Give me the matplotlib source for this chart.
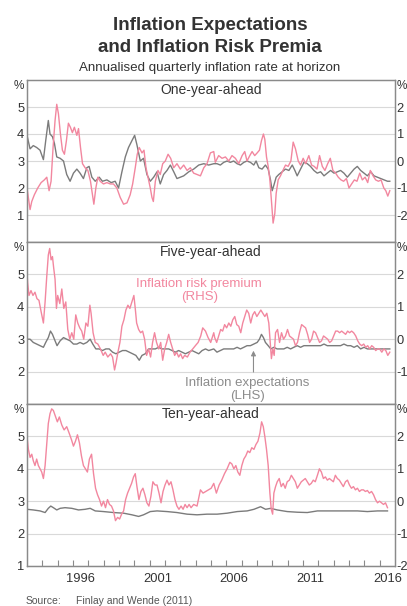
import matplotlib.pyplot as plt

plt.rcParams['font.family'] = ['Liberation Sans', 'DejaVu Sans']
plt.rcParams['axes.unicode_minus'] = False

# ---- One-year-ahead ----
one_exp_years = [
    1993.00, 1993.20, 1993.41, 1993.63, 1993.85, 1994.07, 1994.22, 1994.39, 1994.50, 1994.66,
    1994.79, 1994.94, 1995.16, 1995.38, 1995.59, 1995.81, 1996.03, 1996.25, 1996.46, 1996.68,
    1996.90, 1997.05, 1997.23, 1997.45, 1997.71, 1997.92, 1998.21, 1998.49, 1998.75, 1998.97,
    1999.19, 1999.41, 1999.62, 1999.84, 2000.02, 2000.17, 2000.39, 2000.60, 2000.82, 2001.04,
    2001.26, 2001.48, 2001.69, 2001.91, 2002.13, 2002.35, 2002.57, 2002.78, 2003.00, 2003.22,
    2003.55, 2003.87, 2004.20, 2004.53, 2004.85, 2005.18,
    2005.39, 2005.61, 2005.83, 2006.05, 2006.26, 2006.48, 2006.70, 2006.92, 2007.14, 2007.35,
    2007.57, 2007.79, 2007.94, 2008.12, 2008.33, 2008.55, 2008.73, 2008.88, 2008.99, 2009.10,
    2009.25, 2009.42, 2009.64, 2009.86, 2010.08, 2010.30, 2010.47, 2010.62, 2010.84, 2011.06,
    2011.28, 2011.49, 2011.71, 2011.93, 2012.15, 2012.37, 2012.58, 2012.80, 2013.02, 2013.24,
    2013.45, 2013.67, 2013.89, 2014.11, 2014.33, 2014.54, 2014.76, 2014.98, 2015.20, 2015.42,
    2015.63, 2015.85, 2016.07, 2016.29, 2016.51, 2016.66]
one_exp = [
    3.95, 3.45, 3.57, 3.5, 3.4, 3.05, 3.75, 4.5, 4.0, 3.9,
    3.65, 3.15, 3.1, 3.0, 2.5, 2.25, 2.55, 2.7, 2.55, 2.35,
    2.75, 2.8, 2.4, 2.25, 2.4, 2.25, 2.3, 2.2, 2.25, 2.0,
    2.6, 3.15, 3.5, 3.75, 3.95, 3.6, 3.0, 3.1, 2.5, 2.25,
    2.4, 2.6, 2.15, 2.5, 2.65, 2.85, 2.6, 2.35, 2.4, 2.45,
    2.6, 2.7, 2.85, 2.9, 2.85, 2.9,
    2.9, 2.85, 2.95, 3.0, 2.95, 3.0, 2.9, 2.85, 2.95, 3.0,
    2.95, 2.85, 3.0, 2.75, 2.7, 2.85, 2.7, 2.3, 1.9, 2.1,
    2.4, 2.5, 2.6, 2.7, 2.65, 2.85, 2.65, 2.45, 2.7, 2.95,
    2.9, 2.8, 2.65, 2.55, 2.6, 2.45, 2.55, 2.65, 2.55, 2.6,
    2.65, 2.55, 2.4, 2.55, 2.7, 2.8, 2.65, 2.55, 2.45, 2.6,
    2.45, 2.4, 2.35, 2.3, 2.25, 2.25]

one_irp_years = [
    1993.00, 1993.09, 1993.20, 1993.31, 1993.48, 1993.70, 1993.92, 1994.13, 1994.29, 1994.44,
    1994.57, 1994.70, 1994.83, 1994.94, 1995.05, 1995.18, 1995.31, 1995.44, 1995.57, 1995.70,
    1995.83, 1995.96, 1996.09, 1996.25, 1996.36, 1996.49, 1996.62, 1996.79, 1996.97, 1997.14,
    1997.27, 1997.36, 1997.49, 1997.62, 1997.77, 1997.99, 1998.21, 1998.43, 1998.64, 1998.86,
    1999.08, 1999.30, 1999.52, 1999.73, 1999.89, 2000.06, 2000.19, 2000.32, 2000.50, 2000.63,
    2000.76, 2000.89, 2001.04, 2001.15, 2001.24, 2001.37, 2001.54, 2001.69, 2001.85, 2002.02,
    2002.20, 2002.37, 2002.57, 2002.78, 2003.00, 2003.22, 2003.44, 2003.65, 2003.87, 2004.09,
    2004.31, 2004.53, 2004.74, 2004.96, 2005.18,
    2005.28, 2005.50, 2005.72, 2005.94, 2006.16, 2006.37, 2006.59, 2006.81, 2007.03, 2007.20,
    2007.35, 2007.53, 2007.68, 2007.85, 2008.01, 2008.16, 2008.29, 2008.42, 2008.51, 2008.62,
    2008.73, 2008.84, 2008.94, 2009.05, 2009.16, 2009.25, 2009.38, 2009.53, 2009.69, 2009.86,
    2010.03, 2010.21, 2010.36, 2010.51, 2010.69, 2010.84, 2011.01, 2011.17, 2011.38, 2011.56,
    2011.73, 2011.91, 2012.08, 2012.26, 2012.43, 2012.61, 2012.78, 2012.95, 2013.13, 2013.30,
    2013.48, 2013.65, 2013.83, 2014.00, 2014.17, 2014.35, 2014.52, 2014.70, 2014.87, 2015.05,
    2015.22, 2015.39, 2015.57, 2015.74, 2015.92, 2016.09, 2016.27, 2016.40, 2016.53, 2016.66]
one_irp = [
    -1.0, -1.35, -1.8, -1.5, -1.25, -1.0, -0.8, -0.7, -0.6, -1.1,
    -0.75, 0.5, 1.5, 2.1, 1.75, 1.0, 0.4, 0.25, 0.75, 1.4,
    1.25, 1.05, 1.25, 0.95, 1.2, 0.5, -0.1, -0.25, -0.35, -0.75,
    -1.25, -1.6, -1.0, -0.6, -0.75, -0.85, -0.8, -0.85, -0.85, -1.0,
    -1.35, -1.6, -1.55, -1.25, -0.85, -0.25, 0.25, 0.5, 0.3, 0.4,
    -0.25, -0.6, -1.0, -1.35, -1.5, -0.75, -0.35, -0.5, -0.1, 0.0,
    0.25, 0.1, -0.25, -0.1, -0.3, -0.15, -0.35, -0.25, -0.45, -0.5,
    -0.55, -0.25, -0.1, 0.3, 0.35,
    -0.05, 0.2, 0.1, 0.15, 0.0, 0.2, 0.1, -0.1, 0.2, 0.35,
    0.0, 0.2, 0.35, 0.2, 0.3, 0.4, 0.75, 1.0, 0.8, 0.15,
    -0.2, -0.7, -1.45, -2.3, -1.95, -1.2, -0.7, -0.55, -0.35, -0.15,
    -0.2, 0.0, 0.7, 0.45, 0.0, -0.15, 0.1, -0.1, 0.2, -0.15,
    -0.2, -0.3, 0.2, -0.2, -0.35, -0.1, 0.1, -0.35, -0.45, -0.6,
    -0.7, -0.75, -0.65, -1.0, -0.85, -0.7, -0.75, -0.45, -0.7, -0.6,
    -0.8, -0.35, -0.55, -0.7, -0.75, -0.7, -1.0, -1.1, -1.3, -1.1]

# ---- Five-year-ahead ----
five_exp_years = [
    1993.00, 1993.20, 1993.41, 1993.63, 1993.85, 1994.07, 1994.22, 1994.39, 1994.53, 1994.66,
    1994.83, 1994.96, 1995.16, 1995.38, 1995.59, 1995.81, 1996.03, 1996.25, 1996.46, 1996.68,
    1996.90, 1997.12, 1997.29, 1997.49, 1997.71, 1997.92, 1998.14, 1998.36, 1998.58, 1998.80,
    1999.01, 1999.23, 1999.45, 1999.67, 1999.89, 2000.10, 2000.32, 2000.50, 2000.71, 2000.93,
    2001.15, 2001.37, 2001.59, 2001.80, 2002.02, 2002.24, 2002.46, 2002.67, 2002.89, 2003.11,
    2003.33, 2003.55, 2003.76, 2003.98, 2004.20, 2004.42, 2004.64, 2004.85, 2005.18,
    2005.39, 2005.61, 2005.83, 2006.05, 2006.26, 2006.48, 2006.70, 2006.92, 2007.14, 2007.35,
    2007.57, 2007.79, 2008.01, 2008.16, 2008.29, 2008.42, 2008.55, 2008.73, 2008.90, 2009.10,
    2009.31, 2009.53, 2009.75, 2009.97, 2010.19, 2010.40, 2010.62, 2010.84, 2011.06, 2011.28,
    2011.49, 2011.71, 2011.93, 2012.15, 2012.37, 2012.58, 2012.80, 2013.02, 2013.24, 2013.45,
    2013.67, 2013.89, 2014.11, 2014.33, 2014.54, 2014.76, 2014.98, 2015.20, 2015.42, 2015.63,
    2015.85, 2016.07, 2016.29, 2016.51, 2016.66]
five_exp = [
    3.0, 3.0, 2.9, 2.85, 2.8, 2.75, 2.9, 3.05, 3.25, 3.15,
    2.95, 2.8, 2.95, 3.05, 3.0, 2.95, 2.85, 2.85, 2.9, 2.85,
    2.9, 3.0, 2.85, 2.7, 2.7, 2.65, 2.7, 2.7, 2.6, 2.55,
    2.6, 2.65, 2.65, 2.6, 2.55, 2.5, 2.35, 2.5, 2.55, 2.7,
    2.7, 2.7, 2.75, 2.7, 2.7, 2.7, 2.65, 2.6, 2.65, 2.6,
    2.55, 2.6, 2.65, 2.6, 2.55, 2.65, 2.7, 2.65, 2.7,
    2.6, 2.65, 2.7, 2.7, 2.7, 2.7, 2.75, 2.7, 2.75, 2.8,
    2.8, 2.85, 2.9, 3.0, 3.15, 3.05, 2.9, 2.8, 2.7, 2.75,
    2.7, 2.7, 2.7, 2.75, 2.7, 2.75, 2.8, 2.75, 2.8, 2.8,
    2.8, 2.8, 2.8, 2.8, 2.85, 2.8, 2.8, 2.8, 2.8, 2.8,
    2.85, 2.8, 2.8, 2.75, 2.8, 2.7, 2.75, 2.7, 2.7, 2.7,
    2.7, 2.7, 2.7, 2.7, 2.7]

five_irp_years = [
    1993.00, 1993.04, 1993.13, 1993.26, 1993.39, 1993.52, 1993.65, 1993.78, 1993.92, 1994.07,
    1994.18, 1994.29, 1994.39, 1994.48, 1994.57, 1994.66, 1994.74, 1994.83, 1994.92, 1995.00,
    1995.14, 1995.27, 1995.40, 1995.53, 1995.66, 1995.79, 1995.92, 1996.05, 1996.18, 1996.31,
    1996.44, 1996.57, 1996.70, 1996.84, 1996.97, 1997.10, 1997.18, 1997.31, 1997.45, 1997.62,
    1997.79, 1997.97, 1998.10, 1998.27, 1998.45, 1998.58, 1998.71, 1998.80, 1998.93, 1999.06,
    1999.19, 1999.32, 1999.45, 1999.58, 1999.71, 1999.84, 1999.97, 2000.06, 2000.15, 2000.28,
    2000.41, 2000.54, 2000.67, 2000.80, 2000.93, 2001.06, 2001.19, 2001.32, 2001.45, 2001.59,
    2001.72, 2001.85, 2001.98, 2002.11, 2002.24, 2002.37, 2002.50, 2002.63, 2002.76, 2002.89,
    2003.02, 2003.15, 2003.28, 2003.46, 2003.63, 2003.81, 2003.98, 2004.16, 2004.33, 2004.46,
    2004.64, 2004.81, 2004.98, 2005.18,
    2005.24, 2005.37, 2005.50, 2005.63, 2005.76, 2005.89, 2006.02, 2006.16, 2006.29, 2006.42,
    2006.55, 2006.68, 2006.81, 2006.94, 2007.07, 2007.20, 2007.33, 2007.46, 2007.59, 2007.72,
    2007.85, 2007.99, 2008.12, 2008.25, 2008.38, 2008.51, 2008.64, 2008.77, 2008.86, 2008.94,
    2009.03, 2009.12, 2009.21, 2009.34, 2009.47, 2009.60, 2009.73, 2009.86, 2009.99, 2010.12,
    2010.25, 2010.38, 2010.51, 2010.64, 2010.77, 2010.91, 2011.04, 2011.17, 2011.30, 2011.43,
    2011.56, 2011.69, 2011.82, 2011.95, 2012.08, 2012.21, 2012.34, 2012.47, 2012.61, 2012.74,
    2012.87, 2013.00, 2013.13, 2013.26, 2013.39, 2013.52, 2013.65, 2013.78, 2013.91, 2014.04,
    2014.17, 2014.30, 2014.44, 2014.57, 2014.70, 2014.83, 2014.96, 2015.09, 2015.22, 2015.35,
    2015.48, 2015.61, 2015.74, 2015.87, 2016.00, 2016.14, 2016.27, 2016.40, 2016.53, 2016.66]
five_irp = [
    2.07, 1.75, 1.35, 1.5, 1.35, 1.45, 1.25, 1.2, 0.85, 0.5,
    1.15, 1.95, 2.6, 2.8, 2.45, 2.55, 2.2, 1.85, 0.95, 1.35,
    1.1, 1.55, 0.95, 1.15, 0.3, 0.0, 0.2, 0.0, 0.75, 0.5,
    0.35, 0.25, 0.0, 0.5, 0.4, 1.05, 0.8, 0.2, -0.1, -0.15,
    -0.3, -0.5, -0.4, -0.55, -0.45, -0.55, -0.95, -0.75, -0.4, -0.1,
    0.4, 0.6, 0.9, 1.05, 0.95, 1.15, 1.35, 0.95, 0.5, 0.3,
    0.2, 0.25, 0.0, -0.5, -0.3, -0.55, -0.1, 0.2, -0.1, -0.3,
    -0.1, -0.65, -0.3, -0.1, 0.15, -0.1, -0.3, -0.5, -0.4, -0.55,
    -0.45, -0.6, -0.5, -0.55, -0.4, -0.3, -0.2, -0.1, 0.1, 0.35,
    0.25, 0.05, -0.1, 0.2,
    0.05, -0.1, 0.1, 0.3, 0.25, 0.45, 0.35, 0.5, 0.4, 0.6,
    0.7, 0.45, 0.4, 0.2, 0.5, 0.7, 0.9, 0.8, 0.5, 0.75,
    0.85, 0.7, 0.8, 0.9, 0.8, 0.7, 0.8, 0.5, -0.1, -0.6,
    -0.3, -0.5, 0.2, 0.3, -0.1, 0.2, 0.0, 0.1, 0.3, 0.1,
    0.05, 0.0, -0.2, -0.1, 0.2, 0.45, 0.4, 0.35, 0.15, -0.1,
    0.0, 0.25, 0.2, 0.05, -0.1, -0.05, 0.1, 0.05, 0.0, -0.1,
    -0.05, 0.1, 0.25, 0.25, 0.2, 0.25, 0.2, 0.15, 0.25, 0.2,
    0.25, 0.2, 0.1, -0.05, -0.15, -0.2, -0.15, -0.25, -0.2, -0.3,
    -0.2, -0.25, -0.35, -0.3, -0.3, -0.4, -0.3, -0.35, -0.5, -0.4]

# ---- Ten-year-ahead ----
ten_exp_years = [
    1993.00, 1993.41, 1993.85, 1994.18, 1994.39, 1994.55, 1994.72, 1994.94, 1995.16, 1995.48,
    1995.92, 1996.36, 1996.79, 1997.12, 1997.45, 1997.99, 1998.64, 1999.30, 1999.84, 2000.28,
    2000.60, 2001.04, 2001.48, 2002.13, 2002.78, 2003.44, 2004.09, 2004.74, 2005.40, 2006.05,
    2006.71, 2007.36, 2007.80, 2008.23, 2008.56, 2008.89, 2009.32, 2009.97, 2010.63, 2011.28,
    2011.94, 2012.59, 2013.24, 2013.90, 2014.55, 2015.20, 2015.86, 2016.51]
ten_exp = [
    2.75, 2.73, 2.7, 2.65, 2.78, 2.85, 2.8, 2.73, 2.78, 2.8,
    2.78, 2.73, 2.75, 2.78, 2.7, 2.68, 2.65, 2.63, 2.58, 2.53,
    2.58, 2.68, 2.7, 2.68, 2.65, 2.6, 2.58, 2.6, 2.6, 2.63,
    2.68, 2.7, 2.75, 2.83, 2.75, 2.78, 2.73, 2.68, 2.66, 2.65,
    2.7, 2.7, 2.7, 2.7, 2.7, 2.68, 2.7, 2.7]

ten_irp_years = [
    1993.00, 1993.09, 1993.20, 1993.31, 1993.41, 1993.52, 1993.63, 1993.74, 1993.85, 1993.96,
    1994.07, 1994.18, 1994.29, 1994.39, 1994.50, 1994.61, 1994.72, 1994.83, 1994.98, 1995.11,
    1995.27, 1995.42, 1995.59, 1995.75, 1995.90, 1996.03, 1996.16, 1996.29, 1996.42, 1996.55,
    1996.68, 1996.81, 1996.94, 1997.07, 1997.21, 1997.34, 1997.47, 1997.60, 1997.73, 1997.86,
    1997.99, 1998.12, 1998.25, 1998.38, 1998.51, 1998.64, 1998.77, 1998.91, 1999.04, 1999.17,
    1999.30, 1999.43, 1999.56, 1999.69, 1999.82, 1999.95, 2000.06, 2000.17, 2000.30, 2000.43,
    2000.56, 2000.69, 2000.82, 2000.95, 2001.08, 2001.21, 2001.35, 2001.48, 2001.61, 2001.74,
    2001.87, 2002.00, 2002.13, 2002.26, 2002.39, 2002.52, 2002.65, 2002.78, 2002.91, 2003.05,
    2003.18, 2003.31, 2003.44, 2003.57, 2003.70, 2003.87, 2004.09, 2004.31, 2004.48, 2004.66,
    2004.83, 2005.01, 2005.18, 2005.35, 2005.53, 2005.70, 2005.88, 2006.05, 2006.23, 2006.36,
    2006.49, 2006.62, 2006.75, 2006.88, 2007.01, 2007.14, 2007.27, 2007.40, 2007.53, 2007.66,
    2007.80, 2007.93, 2008.06, 2008.19, 2008.30, 2008.41, 2008.51, 2008.62, 2008.73, 2008.84,
    2008.93, 2009.02, 2009.10, 2009.21, 2009.32, 2009.45, 2009.58, 2009.71, 2009.84, 2009.97,
    2010.11, 2010.24, 2010.37, 2010.50, 2010.63, 2010.76, 2010.89, 2011.02, 2011.15, 2011.28,
    2011.41, 2011.54, 2011.67, 2011.80, 2011.94, 2012.07, 2012.20, 2012.33, 2012.46, 2012.59,
    2012.72, 2012.85, 2012.98, 2013.11, 2013.24, 2013.37, 2013.50, 2013.63, 2013.77, 2013.90,
    2014.03, 2014.16, 2014.29, 2014.42, 2014.55, 2014.68, 2014.81, 2014.94, 2015.07, 2015.20,
    2015.33, 2015.47, 2015.60, 2015.73, 2015.86, 2015.99, 2016.12, 2016.25, 2016.38, 2016.51]
ten_irp = [
    2.0, 1.6, 1.35, 1.45, 1.25, 1.1, 1.3, 1.1, 1.0, 0.9,
    0.7, 1.1, 1.8, 2.4, 2.7, 2.85, 2.8, 2.65, 2.45, 2.6,
    2.35, 2.2, 2.3, 2.1, 1.9, 1.7, 1.85, 2.05, 1.8, 1.4,
    1.1, 1.0, 0.9, 1.3, 1.45, 0.85, 0.4, 0.2, 0.05, -0.15,
    0.0, -0.2, 0.05, -0.1, -0.15, -0.3, -0.6, -0.5, -0.55, -0.4,
    -0.3, 0.05, 0.25, 0.4, 0.55, 0.75, 0.85, 0.45, 0.05, 0.3,
    0.4, 0.2, -0.05, -0.15, 0.15, 0.6, 0.5, 0.5, 0.25, -0.05,
    0.3, 0.5, 0.65, 0.5, 0.6, 0.35, 0.05, -0.15, -0.25, -0.15,
    -0.25, -0.1, -0.2, -0.1, -0.2, -0.1, -0.15, 0.35, 0.25, 0.3,
    0.35, 0.4, 0.55, 0.25, 0.5, 0.65, 0.85, 1.0, 1.2, 1.15,
    1.0, 1.1, 0.9, 0.8, 1.1, 1.3, 1.4, 1.55, 1.5, 1.65,
    1.6, 1.75, 1.85, 2.1, 2.45, 2.3, 2.0, 1.6, 1.1, 0.25,
    -0.25, -0.4, 0.25, 0.45, 0.6, 0.7, 0.45, 0.55, 0.4, 0.6,
    0.65, 0.8, 0.7, 0.6, 0.4, 0.5, 0.6, 0.65, 0.7, 0.6,
    0.5, 0.55, 0.65, 0.6, 0.8, 1.0, 0.9, 0.7, 0.75, 0.65,
    0.7, 0.65, 0.6, 0.8, 0.7, 0.65, 0.55, 0.45, 0.6, 0.65,
    0.5, 0.4, 0.45, 0.35, 0.4, 0.3, 0.35, 0.35, 0.3, 0.33,
    0.25, 0.3, 0.2, 0.05, -0.05, 0.0, -0.05, -0.1, -0.05, -0.2]

panel_titles = ['One-year-ahead', 'Five-year-ahead', 'Ten-year-ahead']
lhs_limits = [(0, 6), (1, 6), (1, 6)]
lhs_ticks = [[1, 2, 3, 4, 5], [2, 3, 4, 5], [1, 2, 3, 4, 5]]
rhs_ticks = [[-2, -1, 0, 1, 2], [-1, 0, 1, 2], [-2, -1, 0, 1, 2]]
year_labels = [1996, 2001, 2006, 2011, 2016]

GREY = '#7b7b7b'
PINK = '#f2879f'
TEXT = '#333333'
FRAME = '#8a8a8a'
TICK_FS = 9.3

W, H = 407, 606
fig = plt.figure(figsize=(W / 100, H / 100), dpi=100)

fig.text(0.516, 1 - 25 / H, 'Inflation Expectations', ha='center', va='center',
         fontsize=13.5, fontweight='bold', color=TEXT)
fig.text(0.516, 1 - 48 / H, 'and Inflation Risk Premia', ha='center', va='center',
         fontsize=13.5, fontweight='bold', color=TEXT)
fig.text(0.516, 1 - 68 / H, 'Annualised quarterly inflation rate at horizon',
         ha='center', va='center', fontsize=9.6, color=TEXT)

series = [(one_exp_years, one_exp, one_irp_years, one_irp),
          (five_exp_years, five_exp, five_irp_years, five_irp),
          (ten_exp_years, ten_exp, ten_irp_years, ten_irp)]

axes = []
for i, (ey, ev, ry, rv) in enumerate(series):
    top = 80 + i * 162
    ax = fig.add_axes([27 / W, 1 - (top + 162) / H, 368 / W, 162 / H])
    lo, hi = lhs_limits[i]
    ax.set_xlim(1993, 2017)
    ax.set_ylim(lo, hi)
    ax.set_yticks(lhs_ticks[i])
    ax.yaxis.grid(True, color='#d9d9d9', lw=0.8)
    ax.set_axisbelow(True)
    ax.tick_params(axis='y', length=0, pad=2.0, labelsize=TICK_FS, colors=TEXT)
    ax.plot(ey, ev, color=GREY, lw=1.0)

    rx = ax.twinx()
    rx.set_ylim(lo - 3, hi - 3)
    rx.set_yticks(rhs_ticks[i])
    rx.tick_params(axis='y', length=0, pad=1.2, labelsize=TICK_FS, colors=TEXT)
    rx.plot(ry, rv, color=PINK, lw=1.0)

    for a in (ax, rx):
        for sp in a.spines.values():
            sp.set_color(FRAME)
            sp.set_linewidth(0.9)

    ax.text(0.5, 1 - 10 / 162, panel_titles[i], transform=ax.transAxes,
            ha='center', va='center', fontsize=10, color=TEXT)
    ax.annotate('%', xy=(0, 1), xycoords='axes fraction', xytext=(-3, -6),
                textcoords='offset pixels', ha='right', va='center',
                fontsize=8.5, color=TEXT)
    ax.annotate('%', xy=(1, 1), xycoords='axes fraction', xytext=(2, -6),
                textcoords='offset pixels', ha='left', va='center',
                fontsize=8.5, color=TEXT)

    if i < 2:
        ax.tick_params(axis='x', which='both', bottom=False, labelbottom=False)
    else:
        ax.set_xticks([y + 0.5 for y in year_labels])
        ax.set_xticklabels([str(y) for y in year_labels])
        ax.set_xticks(range(1994, 2017), minor=True)
        ax.tick_params(axis='x', which='major', length=0, pad=5,
                       labelsize=TICK_FS, colors=TEXT)
        ax.tick_params(axis='x', which='minor', direction='in', length=4,
                       width=0.8, color=FRAME)
    axes.append(ax)

# labels for the two series in the middle panel
mid = axes[1]
mid.text(2004.24, 4.5, 'Inflation risk premium\n(RHS)', ha='center', va='center',
         fontsize=9.5, color=PINK, linespacing=1.15)
mid.text(2007.38, 1.45, 'Inflation expectations\n(LHS)', ha='center', va='center',
         fontsize=9.5, color='#8c8c8c', linespacing=1.15)
mid.annotate('', xy=(2007.77, 2.73), xytext=(2007.77, 1.9),
             arrowprops=dict(arrowstyle='-|>', color='#8c8c8c', lw=0.8,
                             mutation_scale=7))

fig.text(26 / W, 1 - 601 / H, 'Source:', ha='left', va='center',
         fontsize=7.5, color='#555555')
fig.text(76 / W, 1 - 601 / H, 'Finlay and Wende (2011)', ha='left', va='center',
         fontsize=7.5, color='#555555')

fig.savefig('out.png', dpi=100)
